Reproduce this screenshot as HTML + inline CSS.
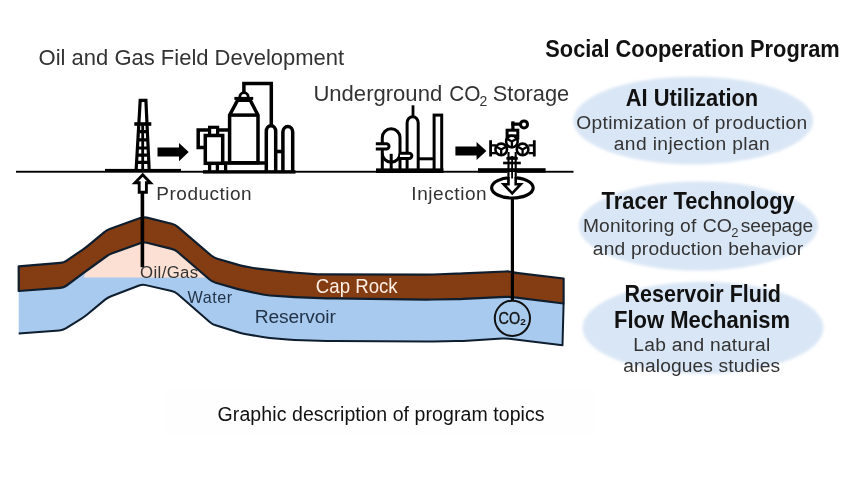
<!DOCTYPE html>
<html>
<head>
<meta charset="utf-8">
<title>Graphic description of program topics</title>
<style>
html,body{margin:0;padding:0;background:#fff;}
body{width:860px;height:483px;overflow:hidden;position:relative;font-family:"Liberation Sans",sans-serif;}
svg{will-change:transform;position:absolute;left:0;top:0;display:block;}
text{font-family:"Liberation Sans",sans-serif;}
.t{fill:#333;}
.b{fill:#111;font-weight:bold;}
</style>
</head>
<body>
<svg width="860" height="483" viewBox="0 0 860 483">
<defs>
<filter id="soft" x="-10%" y="-10%" width="120%" height="120%"><feGaussianBlur stdDeviation="1.8"/></filter>
</defs>

<!-- caption box -->
<rect x="165.5" y="389.5" width="429" height="45" rx="5" fill="#fefefe"/>

<!-- right ellipses -->
<g fill="#d9e6f5" filter="url(#soft)">
<ellipse cx="693.2" cy="120.5" rx="120" ry="43.8"/>
<ellipse cx="698.4" cy="226" rx="119.5" ry="44.6"/>
<ellipse cx="703" cy="327.8" rx="120.5" ry="46"/>
</g>

<!-- GEOLOGY -->
<g id="geo" stroke-linejoin="round">
<path id="res" fill="#a8caee" d="M18.7,291.0 L60.3,287.9 Q63.8,287.6 66.6,285.5 L82.6,273.7 Q85.4,271.6 88.2,269.5 L106.2,256.5 Q109.0,254.4 112.3,253.2 L140.2,243.2 Q143.5,242.0 146.9,242.8 L171.6,248.9 Q175.0,249.7 177.7,252.0 L209.6,279.5 Q212.3,281.8 215.7,282.7 L238.0,289.1 Q241.4,290.0 244.8,290.7 L262.8,294.5 Q266.2,295.2 269.7,295.5 L287.5,296.7 Q291.0,297.0 294.5,297.1 L326.5,298.3 Q330.0,298.4 333.5,298.4 L426.5,299.6 Q430.0,299.6 433.5,299.5 L456.5,299.1 Q460.0,299.0 463.5,298.8 L505.5,296.9 Q509.0,296.7 512.5,297.1 L563.6,303.5 L562.5,345.2 L509.1,338.8 Q505.6,338.4 502.1,338.6 L463.5,340.9 Q460.0,341.1 456.5,341.1 L433.5,341.4 Q430.0,341.4 426.5,341.4 L333.5,341.0 Q330.0,341.0 326.5,340.9 L294.5,339.9 Q291.0,339.8 287.5,339.5 L269.7,337.9 Q266.2,337.6 262.7,337.0 L244.9,334.0 Q241.4,333.4 238.1,332.3 L215.6,325.3 Q212.3,324.2 209.7,321.9 L177.6,294.1 Q175.0,291.8 171.6,291.0 L145.8,285.1 Q142.4,284.3 139.1,285.5 L111.1,296.2 Q107.8,297.4 105.1,299.6 L87.2,314.6 Q84.5,316.8 81.5,318.6 L65.8,328.4 Q62.8,330.2 59.3,330.5 L18.7,333.4 Z"/>
<path fill="none" stroke="#0e1e2e" stroke-width="2" stroke-linejoin="round" d="M563.6,303.5 L562.5,345.2 L509.1,338.8 Q505.6,338.4 502.1,338.6 L463.5,340.9 Q460.0,341.1 456.5,341.1 L433.5,341.4 Q430.0,341.4 426.5,341.4 L333.5,341.0 Q330.0,341.0 326.5,340.9 L294.5,339.9 Q291.0,339.8 287.5,339.5 L269.7,337.9 Q266.2,337.6 262.7,337.0 L244.9,334.0 Q241.4,333.4 238.1,332.3 L215.6,325.3 Q212.3,324.2 209.7,321.9 L177.6,294.1 Q175.0,291.8 171.6,291.0 L145.8,285.1 Q142.4,284.3 139.1,285.5 L111.1,296.2 Q107.8,297.4 105.1,299.6 L87.2,314.6 Q84.5,316.8 81.5,318.6 L65.8,328.4 Q62.8,330.2 59.3,330.5 L18.7,333.4"/>
<path id="oil" fill="#fbe0d3" d="M84,277.6 L85.4,271.6 L109,254.4 L143.5,241 L175,249.7 L206,277.6 Z"/>
<path id="cap" fill="#843c13" stroke="#0e1e2e" stroke-width="2.2" d="M18.7,266.4 L60.3,262.9 Q63.8,262.6 66.7,260.6 L82.5,249.8 Q85.4,247.8 88.1,245.6 L104.4,232.2 Q107.1,230.0 110.4,228.8 L140.2,218.0 Q143.5,216.8 146.9,217.6 L171.6,223.8 Q175.0,224.6 177.7,226.9 L211.2,255.5 Q213.9,257.8 217.3,258.8 L236.6,264.4 Q240.0,265.4 243.4,266.1 L250.8,267.5 Q254.2,268.2 257.7,268.6 L286.5,271.8 Q290.0,272.2 293.5,272.5 L314.1,274.1 Q317.6,274.4 321.1,274.4 L426.5,274.6 Q430.0,274.6 433.5,274.5 L456.5,273.7 Q460.0,273.6 463.5,273.4 L505.5,271.5 Q509.0,271.3 511.6,272.0 L512.1,272.1 Q514.7,272.8 518.2,273.2 L563.6,278.5 L563.6,303.5 L512.5,297.1 Q509.0,296.7 505.5,296.9 L463.5,298.8 Q460.0,299.0 456.5,299.1 L433.5,299.5 Q430.0,299.6 426.5,299.6 L333.5,298.4 Q330.0,298.4 326.5,298.3 L294.5,297.1 Q291.0,297.0 287.5,296.7 L269.7,295.5 Q266.2,295.2 262.8,294.5 L244.8,290.7 Q241.4,290.0 238.0,289.1 L215.7,282.7 Q212.3,281.8 209.6,279.5 L177.7,252.0 Q175.0,249.7 171.6,248.9 L146.9,242.8 Q143.5,242.0 140.2,243.2 L112.3,253.2 Q109.0,254.4 106.2,256.5 L88.2,269.5 Q85.4,271.6 82.6,273.7 L66.6,285.5 Q63.8,287.6 60.3,287.9 L18.7,291.0 Z"/>
</g>

<!-- ground line -->
<rect x="16" y="170.8" width="557.5" height="1.9" fill="#000"/>

<!-- wells -->
<rect x="140.6" y="193" width="3.6" height="74.2" fill="#000"/>
<rect x="510.8" y="198.6" width="3.2" height="102" fill="#000"/>

<!-- CO2 circle -->
<circle cx="512.4" cy="318.3" r="17.6" fill="#a9cbee" stroke="#111" stroke-width="2"/>

<!-- DERRICK -->
<g id="derrick" fill="none" stroke="#000" stroke-linejoin="miter">
<rect x="105" y="168.9" width="76" height="2.4" fill="#000" stroke="none"/>
<path d="M136.1,170.5 L140.2,100.3 L145.9,100.3 L149.2,170.5" stroke-width="3.2"/>
<path d="M142.7,125 L142.7,170" stroke-width="2.8"/>
<path d="M134.3,124 L151.3,124" stroke-width="3.6"/>
<path d="M138,131.7 H148 M137.6,139.9 H148.4 M137,148 H148.8 M136.6,155.2 H149.2 M136,162.3 H149.6" stroke-width="3.2"/>
</g>

<!-- arrows -->
<path d="M157.5,147.6 H179 V143 L188.7,152.1 L179,161.2 V156.6 H157.5 Z" fill="#000"/>
<path d="M455.4,146.5 H476.6 V141.9 L486.4,151 L476.6,160.1 V155.5 H455.4 Z" fill="#000"/>

<!-- production up arrow (hollow) -->
<path d="M142.7,174.8 L150.4,182.8 H146.4 V192.2 H139.2 V182.8 H135 Z" fill="#fff" stroke="#000" stroke-width="2.9" stroke-linejoin="miter"/>

<!-- PLANT 1 -->
<g id="plant1" fill="none" stroke="#000" stroke-width="3.5" stroke-linejoin="miter" stroke-linecap="butt">
<rect x="203" y="170.2" width="92.5" height="3.4" fill="#000" stroke="none"/>
<!-- small tank -->
<path d="M209,130.1 H198.2 V147.5 H204 M218,130.1 H229" />
<rect x="205.3" y="135.5" width="17.4" height="27.8" fill="#fff"/>
<rect x="209.6" y="127.3" width="8" height="8" fill="#fff" stroke-width="3.2"/>
<path d="M209.6,163 V171 M217.4,163 V171 M225.6,163 V171" stroke-width="3.3"/>
<!-- big tank -->
<path d="M229.6,162.8 V115.1 L237.6,100.2 H250.2 L258,115.1 V162.8 Z" fill="#fff"/>
<path d="M229.6,115.1 H258"/>
<path d="M239.8,98.4 V97 A4.2,4.4 0 0 1 248.2,97 V98.4 Z" fill="#fff" stroke-width="2.8"/>
<path d="M234.4,98.4 H253.2" stroke-width="3"/>
<path d="M222.7,162.9 H266"/>
<!-- pipe -->
<path d="M243.9,92 V83.5 H271.3 V126"/>
<!-- capsules -->
<path d="M266.3,171 V131.4 A4.7,5.6 0 0 1 275.7,131.4 V171"/>
<path d="M282.9,171 V132 A4.9,5.6 0 0 1 292.7,132 V171"/>
<path d="M275.7,151.5 H282.9" stroke-width="3.6"/>
</g>

<!-- PLANT 2 -->
<g id="plant2" fill="none" stroke="#000" stroke-width="3" stroke-linejoin="miter">
<rect x="376" y="168.4" width="67.4" height="4.6" fill="#000" stroke="none"/>
<!-- round vessel -->
<path d="M382.3,170 V137.6 A8.85,8.85 0 0 1 400,137.6 V170"/>
<path d="M382.3,153.4 A8.85,8.85 0 0 0 400,153.4"/>
<path d="M391.2,153.8 V170"/>
<path d="M375.8,143.7 H386.4 A2.65,2.65 0 0 1 386.4,149 H375.8" fill="#fff"/>
<!-- tall column -->
<path d="M407.1,170 V123 A5.55,6.3 0 0 1 418.2,123 V170"/>
<path d="M413,105.3 V116.5" stroke-width="2.8"/>
<path d="M400,153.2 H409.2 A2.65,2.65 0 0 1 409.2,158.5 H400" fill="#fff"/>
<!-- chimney -->
<rect x="434.1" y="115.1" width="7.6" height="56" />
<path d="M418.2,158.8 H434.1"/>
</g>

<!-- WELLHEAD -->
<g id="wellhead" fill="none" stroke="#000" stroke-width="2.4" stroke-linejoin="miter">
<rect x="478" y="168.2" width="67.6" height="4.4" fill="#000" stroke="none"/>
<!-- gauge -->
<circle cx="524" cy="124.4" r="3.5" stroke-width="3"/>
<path d="M512.9,129 V124.2 H520.6" stroke-width="3.2"/>
<path d="M512.9,125.8 V121.3" stroke-width="3.2"/>
<!-- top block -->
<rect x="507.1" y="130.2" width="10.7" height="8" stroke-width="3" fill="#fff"/>
<path d="M507.3,135.4 H517.6" stroke-width="2"/>
<!-- body between wheels -->
<path d="M508,158 H516.6" stroke-width="3"/>
<!-- stem -->
<path d="M508.5,152 V183 M515.7,152 V183" stroke-width="2.1"/>
<path d="M512.1,156 V178.5" stroke-width="1.8"/>
<!-- flanges -->
<path d="M506.4,158.4 H517.8" stroke-width="2.6"/>
<path d="M503.1,163 H520.8" stroke-width="2.6"/>
<!-- side flanges -->
<path d="M490.6,140.3 V156.5 M534.3,140.3 V156.5" stroke-width="2.8"/>
<path d="M490.6,145.4 H496 M490.6,153.2 H496 M528.5,145.4 H534.3 M528.5,153.2 H534.3" stroke-width="2.2"/>
<!-- wheels -->
<g stroke-width="2.6">
<circle cx="501.2" cy="149.4" r="5.8" fill="#fff"/>
<circle cx="522.6" cy="149.4" r="5.8" fill="#fff"/>
<circle cx="511.9" cy="141.6" r="5.8" fill="#fff"/>
</g>
<g stroke-width="2.3">
<path d="M501.2,149.4 V155.4 M501.2,149.4 L496,146.4 M501.2,149.4 L506.4,146.4"/>
<path d="M522.6,149.4 V155.4 M522.6,149.4 L517.4,146.4 M522.6,149.4 L527.8,146.4"/>
<path d="M511.9,141.6 V147.6 M511.9,141.6 L506.7,138.6 M511.9,141.6 L517.1,138.6"/>
</g>
</g>
<!-- injection ellipse + arrow -->
<ellipse cx="512.4" cy="187.8" rx="20.8" ry="10.2" fill="none" stroke="#000" stroke-width="3.2"/>
<path d="M508.5,176 V184.2 H503.6 L512.2,193.4 L520.8,184.2 H515.7 V176" fill="#fff" stroke="#000" stroke-width="2.6" stroke-linejoin="miter"/>
<rect x="507.45" y="172" width="9.3" height="5" fill="#fff"/>
<path d="M508.5,171 V178 M515.7,171 V178" stroke="#000" stroke-width="2.1" fill="none"/>
<path d="M512.1,171 V178.5" stroke="#000" stroke-width="1.8" fill="none"/>

<!-- TEXT -->
<text class="t" x="38.6" y="64.7" font-size="22.8" textLength="305.6" lengthAdjust="spacingAndGlyphs">Oil and Gas Field Development</text>
<text class="t" x="313.4" y="100.6" font-size="22.8" textLength="128.8" lengthAdjust="spacingAndGlyphs">Underground</text>
<text class="t" x="449.2" y="100.6" font-size="22.8" textLength="31.2" lengthAdjust="spacingAndGlyphs">CO</text>
<text class="t" x="479.6" y="106" font-size="14">2</text>
<text class="t" x="492.8" y="100.6" font-size="22.8" textLength="76.4" lengthAdjust="spacingAndGlyphs">Storage</text>

<text class="t" x="156.3" y="199.8" font-size="19" textLength="95.4" lengthAdjust="spacing">Production</text>
<text class="t" x="411.3" y="199.8" font-size="19" textLength="75.4" lengthAdjust="spacing">Injection</text>

<text class="t" x="140.1" y="277.8" font-size="16.8" textLength="58.1" lengthAdjust="spacing">Oil/Gas</text>
<text class="t" x="187.5" y="302.7" font-size="16.2" textLength="44.7" lengthAdjust="spacing" style="fill:#22344a">Water</text>
<text class="t" x="254.8" y="322.8" font-size="19.2" textLength="81.1" lengthAdjust="spacing" style="fill:#22344a">Reservoir</text>
<text x="315.8" y="292.5" font-size="19.8" textLength="81.9" lengthAdjust="spacingAndGlyphs" fill="#fdeee4">Cap Rock</text>
<text x="498.6" y="324.3" font-size="17.4" fill="#111" stroke="#111" stroke-width="0.35" textLength="21.6" lengthAdjust="spacingAndGlyphs">CO</text>
<text x="520.2" y="325.4" font-size="9" fill="#111" font-weight="bold" textLength="5.6" lengthAdjust="spacingAndGlyphs">2</text>

<text class="b" x="545.3" y="57.2" font-size="24.6" textLength="294.4" lengthAdjust="spacingAndGlyphs">Social Cooperation Program</text>

<text class="b" x="625.8" y="106.0" font-size="24" textLength="132.4" lengthAdjust="spacingAndGlyphs">AI Utilization</text>
<text class="t" x="576.3" y="128.6" font-size="19.2" textLength="230.9" lengthAdjust="spacing">Optimization of production</text>
<text class="t" x="613.8" y="149.8" font-size="19.2" textLength="155.9" lengthAdjust="spacing">and injection plan</text>

<text class="b" x="601.6" y="209.3" font-size="24" textLength="193.1" lengthAdjust="spacingAndGlyphs">Tracer Technology</text>
<text class="t" x="582.9" y="231.9" font-size="19.2" textLength="113.4" lengthAdjust="spacing">Monitoring of</text>
<text class="t" x="702.7" y="231.9" font-size="19.2" textLength="29.2" lengthAdjust="spacingAndGlyphs">CO</text>
<text class="t" x="731.2" y="237" font-size="13">2</text>
<text class="t" x="740.8" y="231.9" font-size="19.2" textLength="72.4" lengthAdjust="spacing">seepage</text>
<text class="t" x="592.8" y="254.8" font-size="19.2" textLength="210.4" lengthAdjust="spacing">and production behavior</text>

<text class="b" x="624.5" y="302.2" font-size="24" textLength="156.5" lengthAdjust="spacingAndGlyphs">Reservoir Fluid</text>
<text class="b" x="614.0" y="327.7" font-size="24" textLength="176.1" lengthAdjust="spacingAndGlyphs">Flow Mechanism</text>
<text class="t" x="633.3" y="351" font-size="19.2" textLength="136.9" lengthAdjust="spacing">Lab and natural</text>
<text class="t" x="623.3" y="372.2" font-size="19.2" textLength="156.9" lengthAdjust="spacing">analogues studies</text>

<text x="217.6" y="421.4" font-size="19.5" fill="#111" textLength="327.0" lengthAdjust="spacing">Graphic description of program topics</text>
</svg>
</body>
</html>
